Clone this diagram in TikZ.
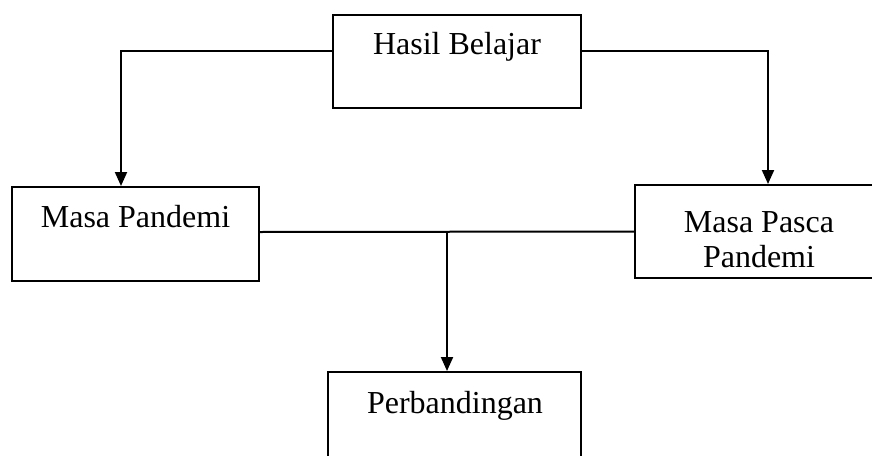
\documentclass[tikz,border=0pt]{standalone}
\usepackage{fontspec}
\setmainfont{Liberation Serif}
\usepackage{tikz}
\usetikzlibrary{arrows.meta}

\begin{document}
\begin{tikzpicture}[x=1pt, y=-1pt, line width=2pt,
  box/.style={rectangle, draw, minimum width=248pt, minimum height=93pt, inner sep=0pt},
  boxtext/.style={font=\fontsize{32}{35}\selectfont, align=center, inner sep=0pt},
  arr/.style={-{Triangle[width=12pt,length=14pt]}}]
\useasboundingbox (0,0) rectangle (872,455);
\clip (0,0) rectangle (872,455);

% Boxes
\node[box] (hb) at (457,61.5) {}; % Top
\node[box, minimum width=247pt, minimum height=94pt] (mp) at (135.5,234) {}; % Left
\node[box] (mpp) at (759,231.5) {}; % Right
\node[box, minimum width=253pt] (pb) at (454.5,418.5) {}; % Bottom

% Texts near the top of each box
\node[boxtext] (hbt) at (457,47) {Hasil Belajar};
\node[boxtext] (mpt) at (135.5,217) {Masa Pandemi};
\node[boxtext] (mppt) at (759,239.5) {Masa Pasca\\Pandemi};
\node[boxtext] (pbt) at (455,405.5) {Perbandingan};

% Connectors
\coordinate (j) at (447,232);
\draw[arr] ([yshift=10.5pt]hb.west) -| ([xshift=-14.5pt]mp.north);
\draw[arr] ([yshift=10.5pt]hb.east) -| ([xshift=9pt]mpp.north);
\draw ([yshift=2pt]mp.east) -- (mpp.west);
\draw[arr] (j) -- (j |- pb.north);
\end{tikzpicture}
\end{document}
